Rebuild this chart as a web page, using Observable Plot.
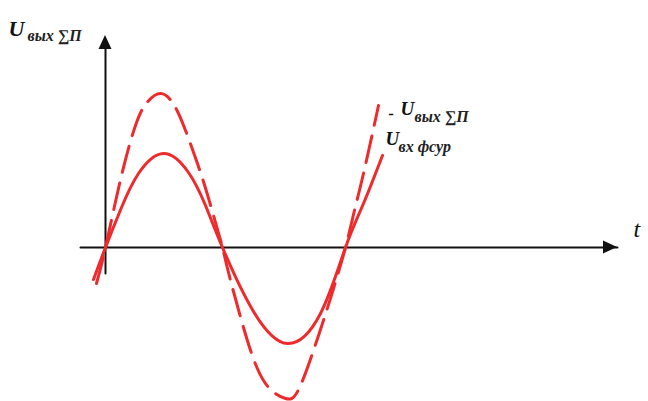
<!DOCTYPE html>
<html><head><meta charset="utf-8">
<script src="https://cdn.jsdelivr.net/npm/d3@7"></script>
<script src="https://cdn.jsdelivr.net/npm/@observablehq/plot@0.6"></script>
<style>body{margin:0;background:#fff} svg{display:block}</style>
</head><body><div id="chart"></div>
<script>
// Output voltage (solid) — time / value pairs
const solidT = [-12, 0, 16, 33, 58, 83, 100, 117, 148, 182, 215, 240, 258, 277];
const solidV = [-32, 0, 40, 74, 94, 75, 42, 0, -64, -96, -66, 0, 44, 92];
// Dashed curve
const dashedT = [-9, 0, 16, 30, 40, 55, 70, 83, 96, 106, 117, 122, 138, 158, 180, 195, 215, 228, 240, 248, 258, 273];
const dashedV = [-36, 0, 72, 122, 143, 154, 140, 109, 72, 39, 0, -21, -80, -133, -151, -138, -82, -41, 0, 33, 74, 142];
// Axis extents
const axisT = [-25, 512];
const axisV = [-26, 212];
// Texts
const yLabelMain = "U";
const yLabelSub = "вых ∑П";
const legendMain = ["U", "U"];
const legendSub = ["вых ∑П", "вх фсур"];
const xLabel = "t";

const solid = solidT.map((t, i) => ({t, v: solidV[i]}));
const dashed = dashedT.map((t, i) => ({t, v: dashedV[i]}));
const RED = "#ef2a2c";
const headLen = 14, headHalf = 6.5;
const vHead = [-headHalf, 0, headHalf].map((x, i) => ({x, y2: i === 1 ? axisV[1] : axisV[1] - headLen}));
const hHead = [-headHalf, 0, headHalf].map((y, i) => ({y, x2: i === 1 ? axisT[1] : axisT[1] - headLen}));
const serif = "'Liberation Serif', 'DejaVu Serif', serif";
const big = {fontFamily: serif, fontWeight: "bold", fontStyle: "italic", textAnchor: "start", fill: "#111"};
const sub = {fontFamily: serif, fontWeight: "bold", fontStyle: "italic", textAnchor: "start", fill: "#222", fontSize: 16};

const chart = Plot.plot({
  width: 648, height: 401,
  marginTop: 0, marginRight: 0, marginBottom: 0, marginLeft: 0,
  x: {domain: [-105, 543], axis: null},
  y: {domain: [-154, 247], axis: null},
  marks: [
    Plot.lineY(axisT, {x: d => d, y: 0, stroke: "#111", strokeWidth: 2}),
    Plot.lineX(axisV.map(v => Math.min(v, axisV[1] - headLen + 1)), {x: 0, y: d => d, stroke: "#111", strokeWidth: 2}),
    Plot.areaY(vHead, {x: "x", y1: axisV[1] - headLen, y2: "y2", fill: "#111", curve: "linear"}),
    Plot.areaX(hHead, {y: "y", x1: axisT[1] - headLen, x2: "x2", fill: "#111", curve: "linear"}),
    Plot.line(dashed, {x: "t", y: "v", stroke: RED, strokeWidth: 3, strokeDasharray: "27,11", curve: "natural"}),
    Plot.line(solid, {x: "t", y: "v", stroke: RED, strokeWidth: 3, curve: "natural"}),
    Plot.text([yLabelMain], {x: -97, y: 219, text: d => d, fontSize: 22, ...big}),
    Plot.text([yLabelSub], {x: -78, y: 212, text: d => d, ...sub}),
    Plot.text(["-"], {x: 283, y: 134, text: d => d, fontSize: 16, ...big}),
    Plot.text([legendMain[0]], {x: 295, y: 139, text: d => d, fontSize: 19, ...big}),
    Plot.text([legendSub[0]], {x: 309, y: 131, text: d => d, ...sub}),
    Plot.text([legendMain[1]], {x: 280, y: 109, text: d => d, fontSize: 19, ...big}),
    Plot.text([legendSub[1]], {x: 293, y: 101, text: d => d, ...sub}),
    Plot.text([xLabel], {x: 528, y: 18, text: d => d, fontSize: 24, fontFamily: serif, fontStyle: "italic", textAnchor: "start", fill: "#111"})
  ]
});
document.getElementById("chart").appendChild(chart);
</script></body></html>
